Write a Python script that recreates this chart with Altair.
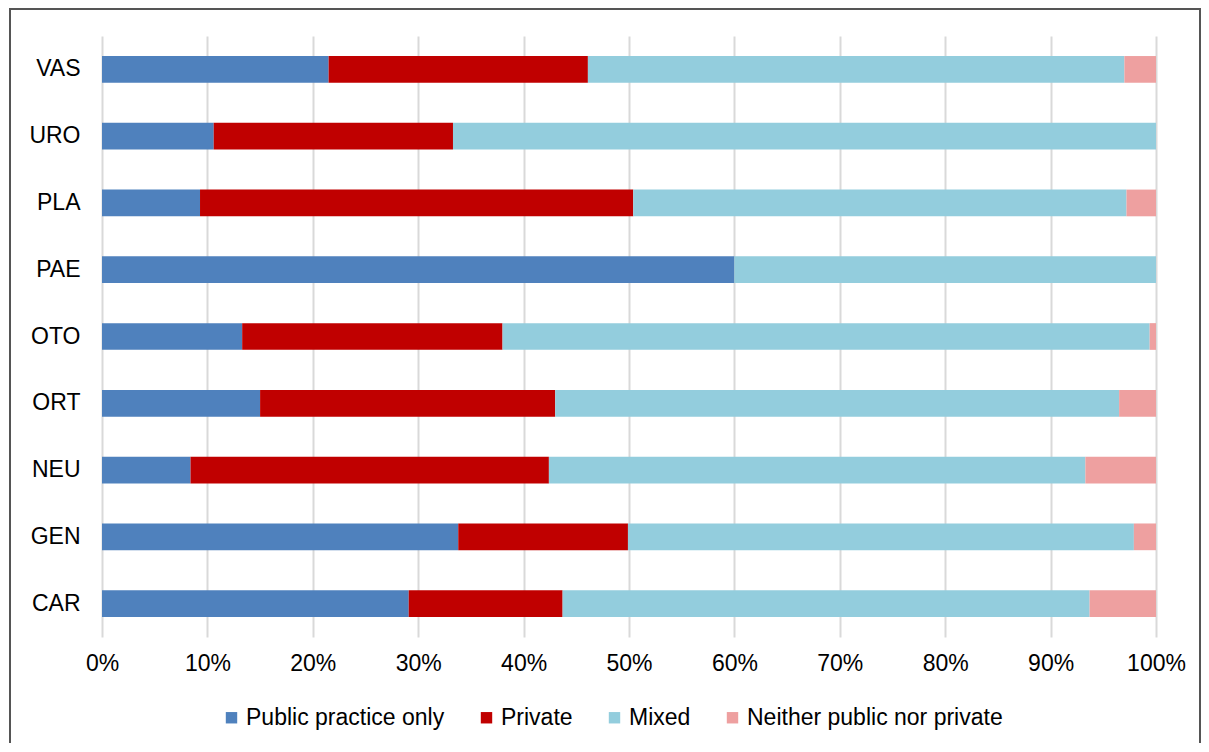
import altair as alt
import pandas as pd

specialties = ["VAS", "URO", "PLA", "PAE", "OTO", "ORT", "NEU", "GEN", "CAR"]
series = ["Public practice only", "Private", "Mixed", "Neither public nor private"]
colors = ["#4F81BD", "#C00000", "#93CDDD", "#EEA0A0"]

public_only = [21.5, 10.6, 9.3, 60.0, 13.3, 15.0, 8.4, 33.8, 29.1]
private = [24.6, 22.7, 41.1, 0.0, 24.7, 28.0, 34.0, 16.1, 14.6]
mixed = [50.9, 66.7, 46.8, 40.0, 61.4, 53.5, 50.9, 48.0, 50.0]
neither = [3.0, 0.0, 2.8, 0.0, 0.6, 3.5, 6.7, 2.1, 6.3]

tick_values = [0, 0.1, 0.2, 0.3, 0.4, 0.5, 0.6, 0.7, 0.8, 0.9, 1.0]

rows = []
for s_idx, (name, vals) in enumerate(zip(series, [public_only, private, mixed, neither])):
    for spec, v in zip(specialties, vals):
        rows.append({"specialty": spec, "series": name, "order": s_idx, "value": v / 100.0})
df = pd.DataFrame(rows)

FONT = "Liberation Sans"

bars = alt.Chart(df).mark_bar().encode(
    y=alt.Y("specialty:N", sort=specialties,
            scale=alt.Scale(paddingInner=0.6, paddingOuter=0.3),
            axis=alt.Axis(title=None, ticks=False, domain=False, grid=False,
                          labelFontSize=23, labelColor="#000000", labelFont=FONT,
                          labelPadding=22)),
    x=alt.X("value:Q", stack="zero",
            scale=alt.Scale(domain=[0, 1], nice=False),
            axis=alt.Axis(title=None, values=tick_values, format=".0%", ticks=False,
                          domain=False, grid=True, gridColor="#D9D9D9", gridWidth=2,
                          labelFontSize=23, labelColor="#000000", labelFont=FONT,
                          labelFlush=False, labelPadding=15)),
    color=alt.Color("series:N", sort=series,
                    scale=alt.Scale(domain=series, range=colors),
                    legend=alt.Legend(title=None, orient="none", legendX=118, legendY=670,
                                      direction="horizontal", symbolType="square",
                                      symbolSize=130, symbolStrokeWidth=0,
                                      labelFontSize=23, labelFont=FONT, labelColor="#000000",
                                      labelLimit=0, labelOffset=3, columnPadding=30, padding=0)),
    order=alt.Order("order:Q"),
)

frame_df = pd.DataFrame({"k": [0]})
frame = alt.Chart(frame_df).mark_rect(fill="transparent", stroke="#555555", strokeWidth=2).encode(
    x=alt.value(-92), x2=alt.value(1098), y=alt.value(-27), y2=alt.value(760)
)

chart = alt.layer(bars, frame).properties(
    width=1054, height=601,
    autosize=alt.AutoSizeParams(type="none"),
    padding={"left": 94, "top": 28, "right": 45, "bottom": 106},
).configure_view(stroke=None)

chart.save("out.html", embed_options={"renderer": "svg", "actions": False})
